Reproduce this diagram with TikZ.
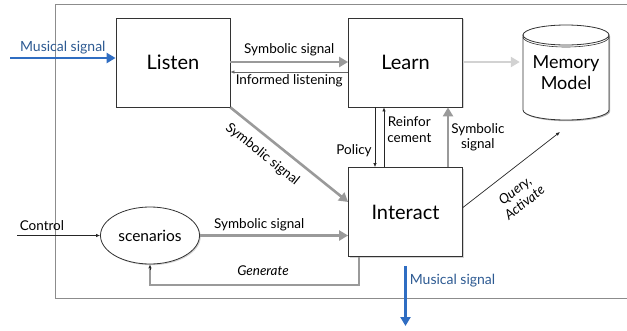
\documentclass[tikz,border=0pt]{standalone}
\usepackage{fontspec}
\setmainfont{Lato}
\usetikzlibrary{arrows.meta,shapes.geometric,shadows,calc}
\definecolor{frame}{HTML}{8C8C8C}
\definecolor{garr}{HTML}{9A9A9A}
\definecolor{lgarr}{HTML}{D2D2D2}
\definecolor{barr}{HTML}{2F6DC2}
\definecolor{btxt}{HTML}{2D5A92}
\tikzset{
  box/.style={draw=black!80, fill=white, line width=0.8pt, minimum width=114pt, minimum height=89pt,
    font=\fontsize{20}{23}\selectfont, drop shadow={opacity=0.35, shadow xshift=1.2pt, shadow yshift=-1.2pt}},
  ell/.style={ellipse, draw=black!80, fill=white, line width=0.8pt, minimum width=94pt, minimum height=57pt,
    font=\fontsize{15.5}{18}\selectfont, drop shadow={opacity=0.35, shadow xshift=1.2pt, shadow yshift=-1.2pt}},
  lbl/.style={font=\fontsize{13.5}{15.5}\selectfont, text=black, align=center, inner sep=2pt},
  ilbl/.style={font=\fontsize{13.5}{15.5}\selectfont\itshape, text=black, align=center, inner sep=2pt},
  thickarr/.style={draw=garr, line width=2.6pt, -{Triangle[length=9pt,width=10pt]}},
  lightarr/.style={draw=lgarr, line width=2.6pt, -{Triangle[length=9pt,width=10pt]}},
  thinarr/.style={draw=black!85, line width=0.7pt, -{Latex[length=4pt,width=3.5pt]}},
  bluearr/.style={draw=barr, line width=2.6pt, -{Triangle[length=9pt,width=10pt]}},
  blbl/.style={font=\fontsize{14}{16}\selectfont, text=btxt, inner sep=2pt},
}
\begin{document}
\begin{tikzpicture}[x=1pt,y=-1pt]
\useasboundingbox (0,0) rectangle (627,330);
% frame
\draw[frame, line width=0.9pt] (627,4) -- (55,4) -- (55,298) -- (627,298);

% nodes
\node[box] (listen) at (173,62.5) {Listen};
\node[box] (learn) at (405.5,62.5) {Learn};
\node[box] (interact) at (405.5,212) {Interact};
\node[ell] (scen) at (150,235.5) {scenarios};

% memory cylinder
\fill[black, opacity=0.3] (524.2,36.2) -- (524.2,111.2) arc[start angle=180, end angle=0, x radius=43, y radius=10] -- (610.2,36.2) -- cycle;
\filldraw[fill=white, draw=black!80, line width=0.8pt] (523,35) -- (523,110) arc[start angle=180, end angle=0, x radius=43, y radius=10] -- (609,35) -- cycle;
\draw[black!80, line width=0.8pt, fill=white] (566,35) ellipse[x radius=43, y radius=10];
\draw[black!80, line width=0.6pt] (523,37) arc[start angle=180, end angle=0, x radius=43, y radius=10];
\node[minimum width=86pt, minimum height=95pt, align=center, font=\fontsize{18}{21}\selectfont] (mem) at (566,73) {Memory\\Model};

% coordinates for free ends
\coordinate (musin) at (10,58);
\coordinate (ctrl) at (17,235.5);
\coordinate (qend) at (560,132);
\coordinate (musout) at (405.5,326);

% Musical signal in
\draw[bluearr] (musin) -- ([yshift=4.5pt]listen.west) node[midway, above, blbl, yshift=1pt] {Musical signal};

% Listen <-> Learn
\draw[thickarr] ([yshift=0.5pt]listen.east) -- ([yshift=0.5pt]learn.west) node[midway, above, lbl, yshift=3pt] {Symbolic signal};
\draw[thinarr, draw=black!60] ([yshift=-9.5pt]learn.west) -- ([yshift=-9.5pt]listen.east) node[midway, below, lbl, yshift=0pt] {Informed listening};

% Learn -> Memory
\draw[lightarr] ([yshift=0.5pt]learn.east) -- ([xshift=-3pt,yshift=0.5pt]mem.west |- learn.east);

% Listen -> Interact diagonal
\draw[thickarr] (listen.south east) -- ([yshift=10pt]interact.west) node[pos=0.36, sloped, below, lbl, yshift=-7pt] {Symbolic signal};

% scenarios -> Interact
\draw[thickarr] (scen.east) -- (interact.west |- scen.east) node[pos=0.4, above, lbl, yshift=1pt] {Symbolic signal};

% Control
\draw[thinarr] (ctrl) -- (scen.west) node[pos=0.3, above, lbl, yshift=3pt] {Control};

% Generate
\draw[garr, line width=1.4pt] ([xshift=-46.5pt]interact.south) -- ++(0,28) -| ([yshift=-5pt]scen.south);
\draw[thinarr] ([yshift=-6pt]scen.south) -- (scen.south);
\node[ilbl] (gen) at (263,271) {Generate};

% Policy / Reinforcement / Symbolic up
\draw[thinarr] ([xshift=-30.5pt]learn.south) -- ([xshift=-30.5pt]interact.north) node[pos=0.72, left, lbl, xshift=-1pt] {Policy};
\draw[thinarr] ([xshift=-21.5pt]interact.north) -- ([xshift=-21.5pt]learn.south) node[pos=0.63, right, lbl, xshift=1pt] {Reinfor\\cement};
\draw[thickarr] ([xshift=42.5pt]interact.north) -- ([xshift=42.5pt]learn.south) node[pos=0.5, right, lbl, xshift=0pt] {Symbolic\\signal};

% Query, Activate
\draw[thinarr] ([yshift=4.5pt]interact.east) -- (qend) node[pos=0.42, sloped, below, ilbl, yshift=-11pt] {Query,\\Activate};

% Musical signal out
\draw[bluearr] ([yshift=-9pt]interact.south) -- (musout) node[pos=0.25, right, blbl, xshift=1pt] {Musical signal};
\end{tikzpicture}
\end{document}
